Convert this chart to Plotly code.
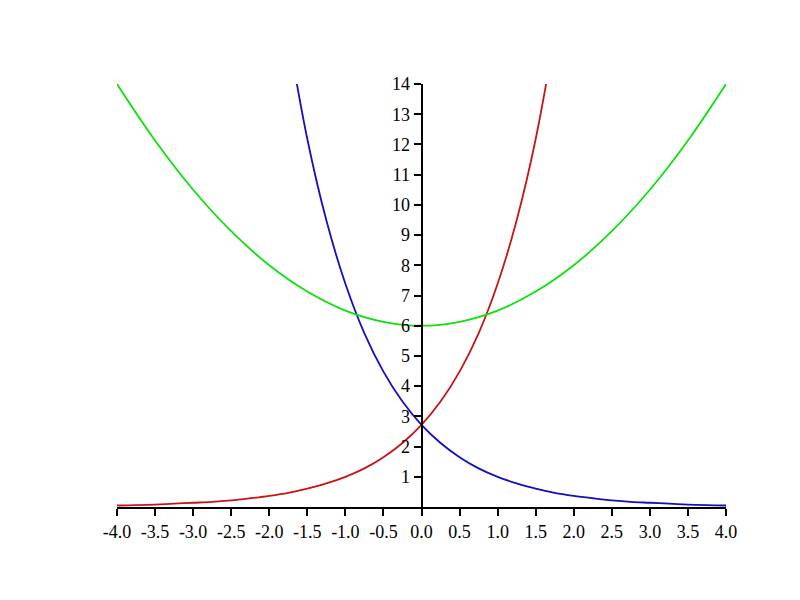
import plotly.graph_objects as go

# values
x_exp = [-4.0, -3.75, -3.5, -3.25, -3.0, -2.75, -2.5, -2.25, -2.0, -1.75, -1.5, -1.25,
         -1.0, -0.75, -0.5, -0.25, 0.0, 0.25, 0.5, 0.75, 1.0, 1.25, 1.5, 1.75]
red_y = [0.05, 0.06, 0.08, 0.11, 0.14, 0.17, 0.22, 0.29, 0.37, 0.47, 0.61, 0.78,
         1.0, 1.28, 1.65, 2.12, 2.72, 3.49, 4.48, 5.75, 7.39, 9.49, 12.18, 15.64]
x_blue = [-1.75, -1.5, -1.25, -1.0, -0.75, -0.5, -0.25, 0.0, 0.25, 0.5, 0.75, 1.0,
          1.25, 1.5, 1.75, 2.0, 2.25, 2.5, 2.75, 3.0, 3.25, 3.5, 3.75, 4.0]
blue_y = [15.64, 12.18, 9.49, 7.39, 5.75, 4.48, 3.49, 2.72, 2.12, 1.65, 1.28, 1.0,
          0.78, 0.61, 0.47, 0.37, 0.29, 0.22, 0.17, 0.14, 0.11, 0.08, 0.06, 0.05]
x_green = [-4.0, -3.5, -3.0, -2.5, -2.0, -1.5, -1.0, -0.5, 0.0,
           0.5, 1.0, 1.5, 2.0, 2.5, 3.0, 3.5, 4.0]
green_y = [14.0, 12.13, 10.5, 9.13, 8.0, 7.13, 6.5, 6.13, 6.0,
           6.13, 6.5, 7.13, 8.0, 9.13, 10.5, 12.13, 14.0]

x_ticks = [-4.0, -3.5, -3.0, -2.5, -2.0, -1.5, -1.0, -0.5, 0.0, 0.5, 1.0, 1.5, 2.0, 2.5, 3.0, 3.5, 4.0]
y_ticks = [1, 2, 3, 4, 5, 6, 7, 8, 9, 10, 11, 12, 13, 14]

fig = go.Figure()
fig.add_trace(go.Scatter(x=x_exp, y=red_y, mode="lines", line=dict(color="#c81414", width=1.8, shape="spline")))
fig.add_trace(go.Scatter(x=x_blue, y=blue_y, mode="lines", line=dict(color="#1010c0", width=1.8, shape="spline")))
fig.add_trace(go.Scatter(x=x_green, y=green_y, mode="lines", line=dict(color="#10e010", width=1.8, shape="spline")))

fig.update_layout(
    width=800, height=600,
    margin=dict(l=109, r=82, t=76, b=101),
    paper_bgcolor="white", plot_bgcolor="white",
    showlegend=False,
    font=dict(family="Liberation Serif", size=18, color="black"),
    xaxis=dict(range=[-4, 4], tickvals=x_ticks, ticktext=[f"{v:.1f}" for v in x_ticks],
               showline=True, linecolor="black", linewidth=2, ticks="outside", ticklen=7,
               tickwidth=2, tickcolor="black", showgrid=False, zeroline=False),
    yaxis=dict(range=[0, 14], tickvals=y_ticks, anchor="free", position=0.5,
               showline=True, linecolor="black", linewidth=2, ticks="outside", ticklen=7,
               tickwidth=2, tickcolor="black", showgrid=False, zeroline=False),
)

fig.write_html("out.html")
